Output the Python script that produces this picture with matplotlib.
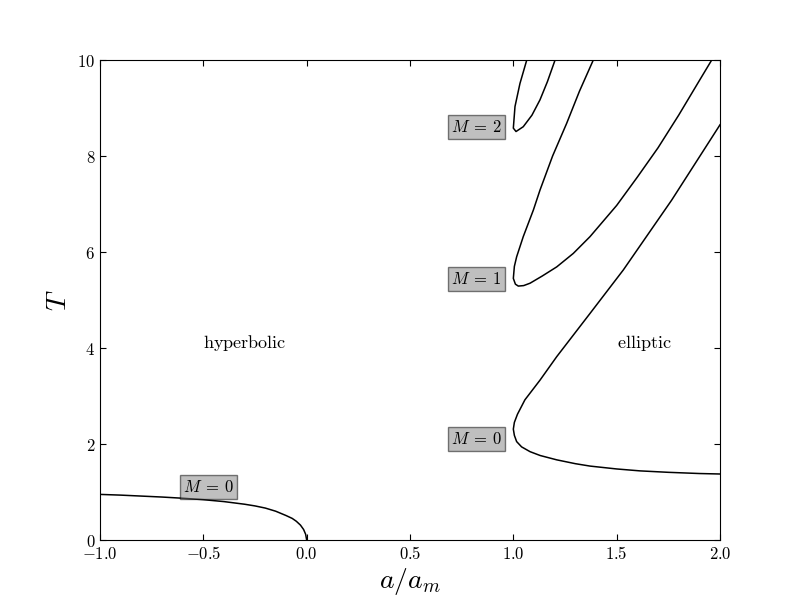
import numpy as np
import matplotlib
matplotlib.use("Agg")
import matplotlib.pyplot as plt
from matplotlib.ticker import FuncFormatter

plt.rcParams['mathtext.fontset'] = 'cm'

# hyperbolic branch, M = 0
x_hyp = [-1.0, -0.9, -0.8, -0.7, -0.6, -0.5, -0.4, -0.3, -0.25, -0.2, -0.15,
         -0.1, -0.07, -0.05, -0.03, -0.015, -0.005, 0.0]
T_hyp = [0.95, 0.935, 0.915, 0.895, 0.87, 0.84, 0.80, 0.745, 0.71, 0.665, 0.60,
         0.51, 0.45, 0.39, 0.31, 0.22, 0.12, 0.0]

# elliptic M = 0 (upper branch, lower branch, both start at the tip a = a_m)
x_m0_up = [1.0, 1.005, 1.02, 1.056, 1.129, 1.21, 1.371, 1.532, 1.766, 2.0]
T_m0_up = [2.31, 2.45, 2.62, 2.92, 3.33, 3.82, 4.72, 5.625, 7.08, 8.65]
x_m0_lo = [1.0, 1.005, 1.016, 1.04, 1.081, 1.13, 1.21, 1.3, 1.371, 1.5,
           1.613, 1.75, 1.9, 2.0]
T_m0_lo = [2.31, 2.18, 2.05, 1.94, 1.84, 1.76, 1.67, 1.59, 1.54, 1.48,
           1.44, 1.41, 1.385, 1.375]

# elliptic M = 1
x_m1_up = [1.0, 1.005, 1.016, 1.048, 1.097, 1.129, 1.19, 1.258, 1.32, 1.387]
T_m1_up = [5.45, 5.7, 5.9, 6.32, 6.875, 7.29, 8.0, 8.68, 9.35, 10.0]
x_m1_lo = [1.0, 1.01, 1.024, 1.05, 1.081, 1.14, 1.21, 1.29, 1.371, 1.5,
           1.6, 1.7, 1.8, 1.9, 1.96]
T_m1_lo = [5.45, 5.33, 5.29, 5.3, 5.35, 5.5, 5.69, 5.97, 6.32, 6.97,
           7.56, 8.17, 8.85, 9.57, 10.0]

# elliptic M = 2
x_m2_up = [1.0, 1.008, 1.032, 1.065]
T_m2_up = [8.58, 9.03, 9.51, 10.0]
x_m2_lo = [1.0, 1.013, 1.048, 1.09, 1.129, 1.165, 1.202]
T_m2_lo = [8.58, 8.51, 8.61, 8.85, 9.17, 9.55, 10.0]

labels = [(-0.6, 1.0, r'$M\:=\:0$'), (0.7, 2.0, r'$M\:=\:0$'),
          (0.7, 5.33, r'$M\:=\:1$'), (0.7, 8.5, r'$M\:=\:2$')]

fig = plt.figure(figsize=(8, 6), dpi=100)
ax = fig.add_axes([0.125, 0.1, 0.775, 0.8])

ax.plot(x_hyp, T_hyp, 'k-', lw=1.1)
for xu, tu, xl, tl in [(x_m0_up, T_m0_up, x_m0_lo, T_m0_lo),
                       (x_m1_up, T_m1_up, x_m1_lo, T_m1_lo),
                       (x_m2_up, T_m2_up, x_m2_lo, T_m2_lo)]:
    ax.plot(xu[::-1] + xl, tu[::-1] + tl, 'k-', lw=1.1)

for x, t, s in labels:
    ax.text(x, t, s, fontsize=12,
            bbox=dict(facecolor='gray', alpha=0.5, pad=2))

ax.text(-0.5, 4, r'$\mathrm{hyperbolic}$', fontsize=13)
ax.text(1.5, 4, r'$\mathrm{elliptic}$', fontsize=13)

ax.set_xlim(-1, 2)
ax.set_ylim(0, 10)
ax.set_xticks(np.arange(-1, 2.01, 0.5))
ax.set_yticks(np.arange(0, 10.1, 2))
ax.xaxis.set_major_formatter(FuncFormatter(lambda v, p: r'$%.1f$' % v))
ax.yaxis.set_major_formatter(FuncFormatter(lambda v, p: r'$%d$' % v))
ax.tick_params(direction='in', top=True, right=True, labelsize=12, length=4)
ax.set_xlabel(r'$a/a_m$', fontsize=20, labelpad=2)
ax.set_ylabel(r'$T$', fontsize=20)

fig.savefig('out.png', dpi=100)
